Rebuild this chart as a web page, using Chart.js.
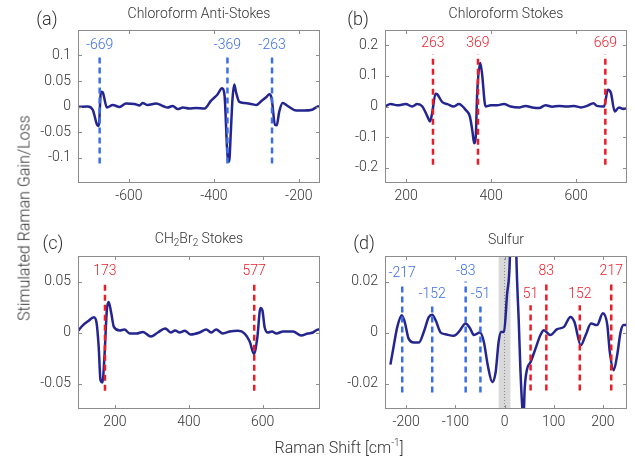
<!DOCTYPE html>
<html>
<head>
<meta charset="utf-8">
<script src="https://cdn.jsdelivr.net/npm/chart.js@4"></script>
<style>
body { margin: 0; background: #fff; }
#wrap { position: relative; width: 635px; height: 460px; font-family: Roboto, "Open Sans", sans-serif; font-weight: 300; color: #333; }
canvas { position: absolute; }
.txt { position: absolute; transform: translate(-50%, -50%); white-space: nowrap; }
.ttl { font-size: 14px; }
.let { font-size: 18px; }
</style>
</head>
<body>
<div id="wrap">
  <canvas id="ca" width="330" height="215" style="left:0;top:0"></canvas>
  <canvas id="cb" width="305" height="215" style="left:330px;top:0"></canvas>
  <canvas id="cc" width="330" height="230" style="left:0;top:215px"></canvas>
  <canvas id="cd" width="305" height="230" style="left:330px;top:215px"></canvas>

  <div class="txt ttl" style="left:199px;top:13px">Chloroform Anti-Stokes</div>
  <div class="txt ttl" style="left:506px;top:13px">Chloroform Stokes</div>
  <div class="txt ttl" style="left:199px;top:239px">CH<sub style="font-size:10px">2</sub>Br<sub style="font-size:10px">2</sub> Stokes</div>
  <div class="txt ttl" style="left:506px;top:239px">Sulfur</div>

  <div class="txt let" style="left:47px;top:18px">(a)</div>
  <div class="txt let" style="left:358px;top:18px">(b)</div>
  <div class="txt let" style="left:53px;top:242px">(c)</div>
  <div class="txt let" style="left:364px;top:242px">(d)</div>

  <div class="txt" style="left:24px;top:218px;font-size:16px;transform:translate(-50%,-50%) rotate(-90deg)">Stimulated Raman Gain/Loss</div>
  <div class="txt" style="left:339px;top:447px;font-size:16px">Raman Shift [cm<sup style="font-size:10px">-1</sup>]</div>
</div>

<script>
// (a) chloroform anti-stokes
var aShift = [-720,-697,-685,-675,-671,-666,-662,-652,-638,-622,-607,-587,-575,-568,-556,-536,-520,-509,-497,-485,-473,-458,-442,-422,-407,-391,-381,-375,-368,-364,-360,-356,-352,-348,-340,-328,-312,-300,-289,-277,-269,-264,-256,-252,-246,-238,-226,-206,-187,-171,-155,-150]
var aSignal = [-0.001,0,-0.007,-0.036,-0.038,0.029,0.028,-0.002,0.003,-0.001,0.006,0.005,0.002,0.007,0.003,0.006,0.001,-0.002,0.001,-0.005,-0.002,-0.004,-0.003,-0.004,0.011,0.024,0.036,0.023,-0.095,-0.108,-0.049,0.016,0.043,0.029,0.009,0.007,0.005,0.003,0.010,0.018,0.024,0.016,-0.036,-0.037,-0.010,0.007,0.001,-0.008,-0.008,-0.007,0,0.001]
var aMarkPos = [-669, -368, -263]
var aMarkText = ['-669', '-369', '-263']
var aMarkTop = 0.1
var aMarkBottom = -0.112
var aXTicks = [-600, -400, -200]
var aYTicks = [-0.1, -0.05, 0, 0.05, 0.1]

// (b) chloroform stokes
var bShift = [150,163,179,199,214,226,238,250,256,261,269,273,285,297,312,324,340,350,356,360,364,367,374,378,387,399,414,430,446,466,481,497,513,528,544,560,579,595,611,626,641,649,666,675,682,691,701,711,720]
var bSignal = [0,0.008,0.004,0.008,0,0.008,0,-0.033,-0.049,-0.022,0.042,0.040,0.014,0.008,0,0.008,-0.011,-0.033,-0.082,-0.120,-0.092,0.038,0.142,0.114,0,0.004,0.004,0.008,0,-0.003,0.002,-0.003,-0.005,0.004,-0.001,0.002,0,0.002,-0.003,0.002,0.011,0.002,0,0.055,0.045,-0.016,-0.003,-0.008,-0.005]
var bMarkPos = [263, 369, 669]
var bMarkText = ['263', '369', '669']
var bMarkTop = 0.17
var bMarkBottom = -0.19
var bXTicks = [200, 400, 600]
var bYTicks = [-0.2, -0.1, 0, 0.1, 0.2]

// (c) CH2Br2 stokes
var cShift = [100,113,127,143,150,156,161,166,172,178,183,190,197,213,226,240,258,276,297,316,336,351,363,375,389,405,429,447,461,474,492,511,533,551,565,576,585,594,599,605,614,625,637,655,682,704,722,736,750,755]
var cSignal = [0.0016,0.007,0.011,0.015,0.010,-0.014,-0.047,-0.049,-0.021,0.022,0.030,0.019,0.0055,0.002,0.003,-0.001,-0.001,0.0005,-0.004,0,0.004,0,0.002,0,0.0016,-0.002,0,0.003,0,0.003,-0.001,0.001,0.0016,-0.001,-0.009,-0.021,-0.006,0.024,0.022,0.0055,0,0.001,-0.001,0.001,0.001,-0.003,-0.001,0,0.003,0.003]
var cMarkPos = [173, 577]
var cMarkText = ['173', '577']
var cMarkTop = 0.05
var cMarkBottom = -0.057
var cXTicks = [200, 400, 600]
var cYTicks = [-0.05, 0, 0.05]

// (d) sulfur
var dShift = [-232,-225,-218,-209,-203,-195,-184,-174,-164,-154,-147,-140,-130,-120,-103,-93,-79,-70,-62,-50,-42,-34,-25,-18,-12,-7,-1,5,11,17.5,24,29,32.5,36,38.5,41,46,53,63,73,80,93,107,121,134,142,155,165,176,188,200,209,214,222,229,236,242,250]
var dSignal = [-0.0126,-0.005,0.0022,0.0068,0.0042,-0.0024,-0.0039,-0.0039,0.0003,0.006,0.007,0.0048,0,-0.0007,-0.0013,0.0002,0.0035,0.0016,-0.001,0,-0.0037,-0.0129,-0.0194,-0.0155,-0.0037,0.0002,0.0003,0.0147,0.03,0.1,0.03,0.004,-0.0155,-0.029,-0.034,-0.022,-0.0142,-0.0116,-0.0063,-0.001,0.0009,-0.001,0.0013,0.0022,0.0061,0.0042,-0.005,-0.001,0.0035,0.0029,0.0075,0.0029,-0.0076,-0.0148,-0.0089,0.0002,0.0029,0.0029]
var dAntiPos = [-208, -147, -79, -49]
var dAntiText = ['-217', '-152', '-83', '-51']
var dAntiTop = [0.019, 0.0107, 0.02, 0.0107]
var dAntiBottom = -0.0235
var dStokesPos = [53, 85, 153, 217]
var dStokesText = ['51', '83', '152', '217']
var dStokesTop = [0.0107, 0.02, 0.0107, 0.02]
var dStokesBottom = -0.0227
var dBand = [-12, 12]
var dXTicks = [-200, -100, 0, 100, 200]
var dYTicks = [-0.02, 0, 0.02]

var navy = '#25258f'
var blue = '#3c6fe6'
var red = '#ea1d27'
var tickFont = {family: 'Roboto', size: 14, weight: '300'}

function toPoints(xs, ys) {
  var pts = []
  for (var i = 0; i < xs.length; i++) pts.push({x: xs[i], y: ys[i]})
  return pts
}

// vertical dashed markers, one dataset per line
function markSets(pos, text, top, bottom, color) {
  var sets = []
  for (var i = 0; i < pos.length; i++) {
    var t = Array.isArray(top) ? top[i] : top
    sets.push({
      data: [{x: pos[i], y: bottom}, {x: pos[i], y: t}],
      borderColor: color,
      borderWidth: 2.5,
      borderDash: [6, 4],
      pointRadius: 0,
      showLine: true,
      order: 0,
      markText: text[i],
      markColor: color
    })
  }
  return sets
}

var framePlugin = {
  id: 'frame',
  beforeDatasetsDraw: function(chart, args, opts) {
    if (!opts.band) return
    var ctx = chart.ctx, a = chart.chartArea, xs = chart.scales.x
    var x0 = xs.getPixelForValue(opts.band[0]), x1 = xs.getPixelForValue(opts.band[1])
    ctx.save()
    ctx.fillStyle = '#d9d9d9'
    ctx.fillRect(x0, a.top, x1 - x0, a.bottom - a.top)
    var xm = xs.getPixelForValue(0)
    ctx.strokeStyle = '#8a8a8a'
    ctx.lineWidth = 1
    ctx.setLineDash([1, 2])
    ctx.beginPath()
    ctx.moveTo(xm, a.top)
    ctx.lineTo(xm, a.bottom)
    ctx.stroke()
    ctx.restore()
  },
  afterDatasetsDraw: function(chart) {
    var ctx = chart.ctx, xs = chart.scales.x, ys = chart.scales.y
    ctx.save()
    ctx.font = '300 14px Roboto'
    ctx.textAlign = 'center'
    ctx.textBaseline = 'alphabetic'
    chart.data.datasets.forEach(function(ds) {
      if (!ds.markText) return
      var p = ds.data[1]
      ctx.fillStyle = ds.markColor
      ctx.fillText(ds.markText, xs.getPixelForValue(p.x), ys.getPixelForValue(p.y) - 7)
    })
    ctx.restore()
  },
  afterDraw: function(chart) {
    var ctx = chart.ctx, a = chart.chartArea, xs = chart.scales.x, ys = chart.scales.y
    ctx.save()
    ctx.strokeStyle = '#8c8c8c'
    ctx.lineWidth = 1
    ctx.strokeRect(a.left + 0.5, a.top + 0.5, a.right - a.left - 1, a.bottom - a.top - 1)
    ctx.beginPath()
    xs.ticks.forEach(function(t) {
      var px = Math.round(xs.getPixelForValue(t.value)) + 0.5
      ctx.moveTo(px, a.bottom); ctx.lineTo(px, a.bottom - 4)
      ctx.moveTo(px, a.top); ctx.lineTo(px, a.top + 4)
    })
    ys.ticks.forEach(function(t) {
      var py = Math.round(ys.getPixelForValue(t.value)) + 0.5
      ctx.moveTo(a.left, py); ctx.lineTo(a.left + 4, py)
      ctx.moveTo(a.right, py); ctx.lineTo(a.right - 4, py)
    })
    ctx.stroke()
    ctx.restore()
  }
}

function makePanel(id, curve, marks, xr, yr, xt, yt, box, band) {
  var sets = [{
    data: curve,
    borderColor: navy,
    borderWidth: 2.5,
    pointRadius: 0,
    showLine: true,
    cubicInterpolationMode: 'monotone',
    order: 1
  }].concat(marks)

  return new Chart(document.getElementById(id), {
    type: 'scatter',
    data: {datasets: sets},
    options: {
      responsive: false,
      animation: false,
      events: [],
      layout: {padding: {top: box.top, right: box.right, left: 0, bottom: 0}},
      plugins: {legend: {display: false}, tooltip: {enabled: false}, frame: {band: band}},
      scales: {
        x: {
          type: 'linear', min: xr[0], max: xr[1],
          grid: {display: false, drawTicks: false},
          border: {display: false},
          afterBuildTicks: function(s) { s.ticks = xt.map(function(v) { return {value: v} }) },
          afterFit: function(s) { s.height = box.bottom },
          ticks: {font: tickFont, color: '#333', padding: 5, maxRotation: 0, callback: function(v) { return String(v) }}
        },
        y: {
          type: 'linear', min: yr[0], max: yr[1],
          grid: {display: false, drawTicks: false},
          border: {display: false},
          afterBuildTicks: function(s) { s.ticks = yt.map(function(v) { return {value: v} }) },
          afterFit: function(s) { s.width = box.left },
          ticks: {font: tickFont, color: '#333', padding: 7, callback: function(v) { return String(v) }}
        }
      }
    },
    plugins: [framePlugin]
  })
}

makePanel('ca', toPoints(aShift, aSignal), markSets(aMarkPos, aMarkText, aMarkTop, aMarkBottom, blue),
  [-720, -150], [-0.15, 0.15], aXTicks, aYTicks, {left: 78, top: 30, right: 10, bottom: 32})

makePanel('cb', toPoints(bShift, bSignal), markSets(bMarkPos, bMarkText, bMarkTop, bMarkBottom, red),
  [150, 720], [-0.25, 0.25], bXTicks, bYTicks, {left: 55, top: 30, right: 8, bottom: 32})

makePanel('cc', toPoints(cShift, cSignal), markSets(cMarkPos, cMarkText, cMarkTop, cMarkBottom, red),
  [100, 755], [-0.075, 0.075], cXTicks, cYTicks, {left: 78, top: 41, right: 10, bottom: 36})

makePanel('cd', toPoints(dShift, dSignal),
  markSets(dAntiPos, dAntiText, dAntiTop, dAntiBottom, blue).concat(markSets(dStokesPos, dStokesText, dStokesTop, dStokesBottom, red)),
  [-243, 249], [-0.03, 0.03], dXTicks, dYTicks, {left: 55, top: 41, right: 8, bottom: 36}, dBand)
</script>
</body>
</html>
